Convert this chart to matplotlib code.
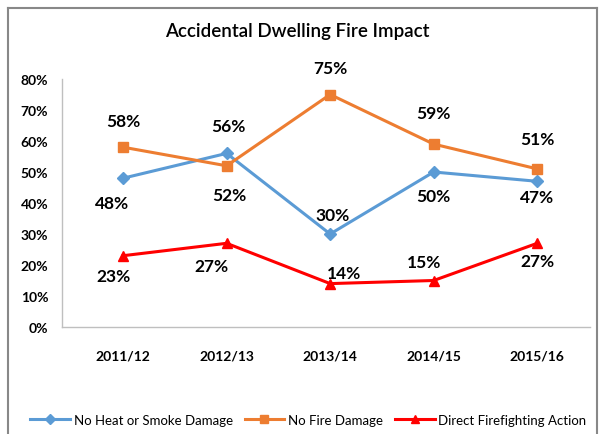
import matplotlib.pyplot as plt
from matplotlib.lines import Line2D

# Data
years = ['2011/12', '2012/13', '2013/14', '2014/15', '2015/16']
no_heat_smoke = [48, 56, 30, 50, 47]
no_fire = [58, 52, 75, 59, 51]
direct_action = [23, 27, 14, 15, 27]
yticks = [0, 10, 20, 30, 40, 50, 60, 70, 80]

# label offsets in pixels (dx, dy), dy positive = up
off_blue = [(-11, -25), (2, 27), (2, 19), (0, -24), (0, -16)]
off_orange = [(0, 26), (3, -29), (0, 27), (0, 31), (0, 30)]
off_red = [(-10, -20), (-15, -23), (14, 11), (-10, 18), (0, -18)]

plt.rcParams['font.family'] = ['Lato', 'DejaVu Sans']

fig = plt.figure(figsize=(5.99, 4.35), dpi=100)
ax = fig.add_axes([62 / 599, 1 - 328 / 435, 528 / 599, 248 / 435])

x = list(range(len(years)))
series = [
    ('No Heat or Smoke Damage', no_heat_smoke, '#5B9BD5', 'D', 6, off_blue),
    ('No Fire Damage', no_fire, '#ED7D31', 's', 7, off_orange),
    ('Direct Firefighting Action', direct_action, '#FF0000', '^', 7, off_red),
]
handles = []
for name, vals, col, mk, ms, offs in series:
    ax.plot(x, vals, color=col, lw=2.2, marker=mk, markersize=ms, label=name)
    for xi, v, (dx, dy) in zip(x, vals, offs):
        ax.annotate(f'{v}%', (xi, v), xytext=(dx, dy), textcoords='offset pixels',
                    ha='center', va='center', fontsize=12.5, fontweight='bold')
    handles.append(Line2D([], [], color=col, lw=2.2, marker=mk, markersize=ms - 1))

ax.set_xlim(-0.59, 4.51)
ax.set_ylim(0, 80)
ax.set_xticks(x)
ax.set_xticklabels(years, fontsize=10, fontweight='bold')
ax.set_yticks(yticks)
ax.set_yticklabels([f'{t}%' for t in yticks], fontsize=10, fontweight='bold')
ax.tick_params(length=0)
ax.tick_params(axis='x', pad=16)
ax.tick_params(axis='y', pad=10)
for s in ['top', 'right']:
    ax.spines[s].set_visible(False)
for s in ['left', 'bottom']:
    ax.spines[s].set_color('#BFBFBF')
    ax.spines[s].set_linewidth(1)

fig.text(0.496, 1 - 32 / 435, 'Accidental Dwelling Fire Impact', ha='center', va='center',
         fontsize=13.5, fontweight='semibold')

fig.legend(handles, [s[0] for s in series], loc='center left',
           bbox_to_anchor=(30 / 599, 1 - 421 / 435), ncol=3, frameon=False,
           fontsize=9.5, handlelength=3.0, columnspacing=0.9, handletextpad=0.3,
           borderaxespad=0, borderpad=0)

# chart frame
for xs, ys in [((8, 8), (9, 440)), ((8, 597), (9, 9)), ((597, 597), (9, 440))]:
    fig.add_artist(Line2D([v / 599 for v in xs], [1 - v / 435 for v in ys],
                          color='#888888', lw=1.5))

fig.savefig('out.png', dpi=100)
